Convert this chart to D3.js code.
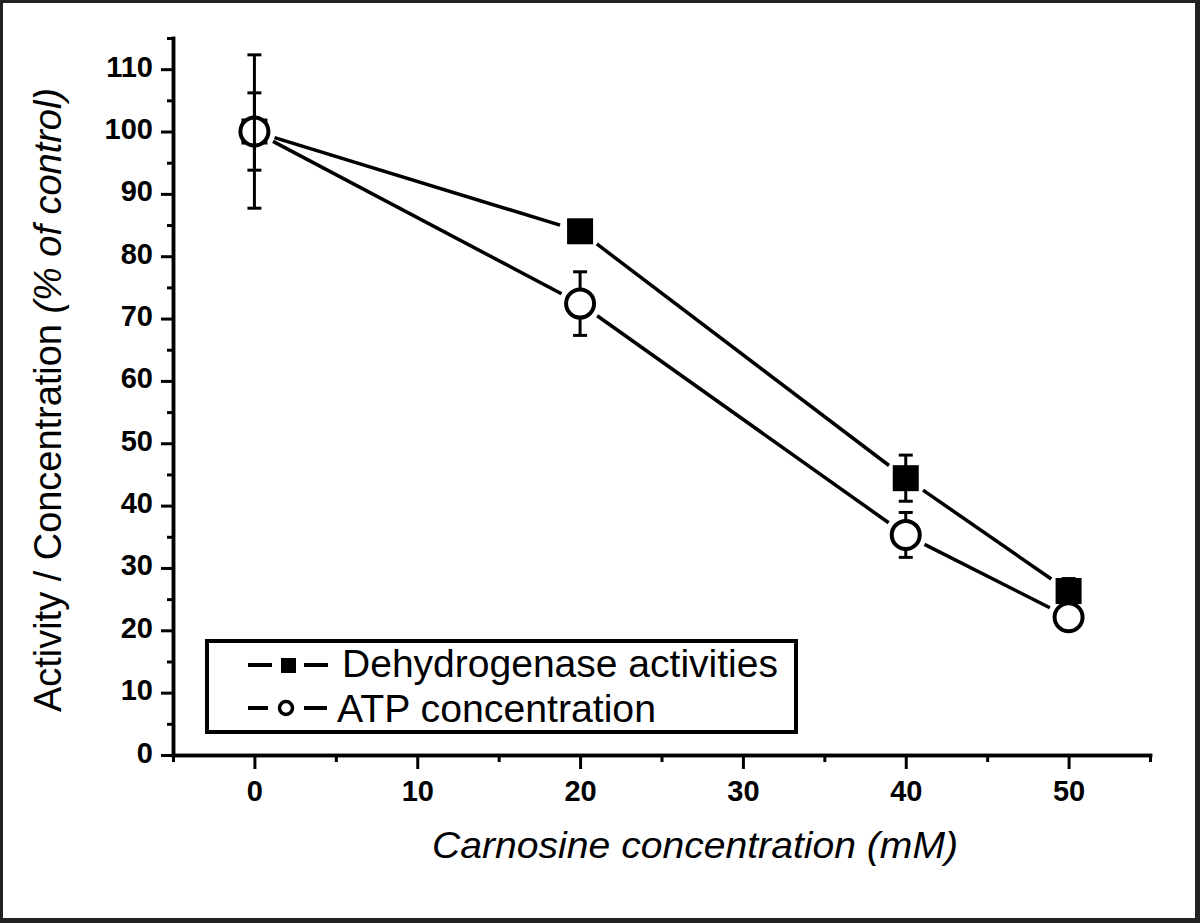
<!DOCTYPE html>
<html><head><meta charset="utf-8">
<script src="https://cdn.jsdelivr.net/npm/d3@7"></script>
<style>body{margin:0;background:#fff}svg{display:block}</style>
</head><body>
<svg id="c" width="1200" height="923"></svg>
<script>
// ---- data ----
const concentrations = [0, 20, 40, 50];
const dehydrogenase = [100, 84.0, 44.4, 26.3];
const dehydrogenaseErr = [12.3, 1.5, 3.7, 2.0];
const atp = [100, 72.4, 35.3, 22.1];
const atpErr = [6.2, 5.1, 3.6, 1.5];
const xMajorTicks = [0, 10, 20, 30, 40, 50];
const xMinorTicks = [-5, 5, 15, 25, 35, 45, 55];
const yMajorTicks = [0, 10, 20, 30, 40, 50, 60, 70, 80, 90, 100, 110];
const yMinorTicks = [5, 15, 25, 35, 45, 55, 65, 75, 85, 95, 105, 115];
const seriesNames = ["Dehydrogenase activities", "ATP concentration"];
const xTitle = "Carnosine concentration (mM)";
const yTitleMain = "Activity / Concentration ";
const yTitleItalic = "(% of control)";

const svg = d3.select("#c");
const FONT = "'Liberation Sans', Arial, Helvetica, sans-serif";

// frame
svg.append("rect").attr("x",0).attr("y",0).attr("width",1200).attr("height",923).attr("fill","#222");
svg.append("rect").attr("x",3).attr("y",3).attr("width",1192).attr("height",915).attr("fill","#fff");

const x = d3.scaleLinear().domain([-5, 55]).range([173, 1150]);
const y = d3.scaleLinear().domain([0, 115]).range([755, 38]);

const AX = 3.5;
const gyMinor = svg.append("g").attr("transform", `translate(${x(-5)},0)`)
  .call(d3.axisLeft(y).tickValues(yMinorTicks).tickSize(6).tickSizeOuter(0).tickFormat(""));
const gy = svg.append("g").attr("transform", `translate(${x(-5)},0)`)
  .call(d3.axisLeft(y).tickValues(yMajorTicks).tickSize(12).tickSizeOuter(0));
const gxMinor = svg.append("g").attr("transform", `translate(0,${y(0)})`)
  .call(d3.axisBottom(x).tickValues(xMinorTicks).tickSize(7).tickSizeOuter(0).tickFormat(""));
const gx = svg.append("g").attr("transform", `translate(0,${y(0)})`)
  .call(d3.axisBottom(x).tickValues(xMajorTicks).tickSize(14).tickSizeOuter(0));

[gyMinor, gy, gxMinor, gx].forEach(g => {
  g.selectAll("path.domain").attr("stroke", "#000").attr("stroke-width", AX).attr("stroke-linecap","square");
  g.selectAll(".tick line").attr("stroke", "#000").attr("stroke-width", 3);
});
gy.selectAll(".tick text")
  .attr("x", -20).attr("dy", 0).attr("y", 7)
  .attr("font-family", FONT).attr("font-weight", "bold").attr("font-size", 29).attr("fill", "#000");
gx.selectAll(".tick text")
  .attr("y", 46).attr("dy", 0)
  .attr("font-family", FONT).attr("font-weight", "bold").attr("font-size", 29).attr("fill", "#000");

// titles
svg.append("text").attr("x", 695).attr("y", 858).attr("text-anchor", "middle")
  .attr("font-family", FONT).attr("font-style", "italic").attr("font-size", 37).attr("fill", "#000")
  .attr("textLength", 526).attr("lengthAdjust", "spacingAndGlyphs")
  .text(xTitle);

const yt = svg.append("text").attr("transform", "translate(61,400) rotate(-90)")
  .attr("text-anchor", "middle").attr("font-family", FONT).attr("font-size", 39).attr("fill", "#000")
  .attr("textLength", 624).attr("lengthAdjust", "spacingAndGlyphs");
yt.append("tspan").text(yTitleMain);
yt.append("tspan").attr("font-style", "italic").text(yTitleItalic);

// lines with gaps at markers
const GAP = 21;
function drawSeries(vals) {
  for (let i = 0; i < vals.length - 1; i++) {
    const x1 = x(concentrations[i]), y1 = y(vals[i]);
    const x2 = x(concentrations[i+1]), y2 = y(vals[i+1]);
    const dx = x2 - x1, dy = y2 - y1, L = Math.hypot(dx, dy);
    const ux = dx / L, uy = dy / L;
    svg.append("line")
      .attr("x1", x1 + ux*GAP).attr("y1", y1 + uy*GAP)
      .attr("x2", x2 - ux*GAP).attr("y2", y2 - uy*GAP)
      .attr("stroke", "#000").attr("stroke-width", 3.5);
  }
}
drawSeries(dehydrogenase);
drawSeries(atp);

function drawErr(vals, errs) {
  const g = svg.append("g").attr("stroke", "#000").attr("stroke-width", 3);
  vals.forEach((v, i) => {
    const cx = x(concentrations[i]);
    const top = y(v + errs[i]), bot = y(v - errs[i]);
    g.append("line").attr("x1", cx).attr("x2", cx).attr("y1", top).attr("y2", bot);
    g.append("line").attr("x1", cx-7).attr("x2", cx+7).attr("y1", top).attr("y2", top);
    g.append("line").attr("x1", cx-7).attr("x2", cx+7).attr("y1", bot).attr("y2", bot);
  });
}
drawErr(atp, atpErr);

svg.append("g").selectAll("rect").data(dehydrogenase).join("rect")
  .attr("x", (d,i) => x(concentrations[i]) - 13).attr("y", d => y(d) - 13)
  .attr("width", 26).attr("height", 26).attr("fill", "#000");
svg.append("g").selectAll("circle").data(atp).join("circle")
  .attr("cx", (d,i) => x(concentrations[i])).attr("cy", d => y(d)).attr("r", 14)
  .attr("fill", "#fff").attr("stroke", "#000").attr("stroke-width", 4);

drawErr(dehydrogenase, dehydrogenaseErr);

// legend
const lg = svg.append("g");
lg.append("rect").attr("x", 207).attr("y", 641).attr("width", 589).attr("height", 91)
  .attr("fill", "#fff").attr("stroke", "#000").attr("stroke-width", 4);
lg.append("line").attr("x1", 248).attr("x2", 272).attr("y1", 665).attr("y2", 665).attr("stroke", "#000").attr("stroke-width", 4);
lg.append("line").attr("x1", 304).attr("x2", 328).attr("y1", 665).attr("y2", 665).attr("stroke", "#000").attr("stroke-width", 4);
lg.append("rect").attr("x", 281).attr("y", 658).attr("width", 15).attr("height", 15).attr("fill", "#000");
lg.append("text").attr("x", 342).attr("y", 677).attr("font-family", FONT).attr("font-size", 38).attr("fill", "#000")
  .attr("textLength", 436).attr("lengthAdjust", "spacingAndGlyphs").text(seriesNames[0]);
lg.append("line").attr("x1", 248).attr("x2", 268).attr("y1", 708).attr("y2", 708).attr("stroke", "#000").attr("stroke-width", 4);
lg.append("line").attr("x1", 304).attr("x2", 327).attr("y1", 708).attr("y2", 708).attr("stroke", "#000").attr("stroke-width", 4);
lg.append("circle").attr("cx", 286).attr("cy", 708).attr("r", 6.5).attr("fill", "#fff").attr("stroke", "#000").attr("stroke-width", 3.5);
lg.append("text").attr("x", 337).attr("y", 722).attr("font-family", FONT).attr("font-size", 38).attr("fill", "#000")
  .attr("textLength", 319).attr("lengthAdjust", "spacingAndGlyphs").text(seriesNames[1]);
</script>
</body></html>
